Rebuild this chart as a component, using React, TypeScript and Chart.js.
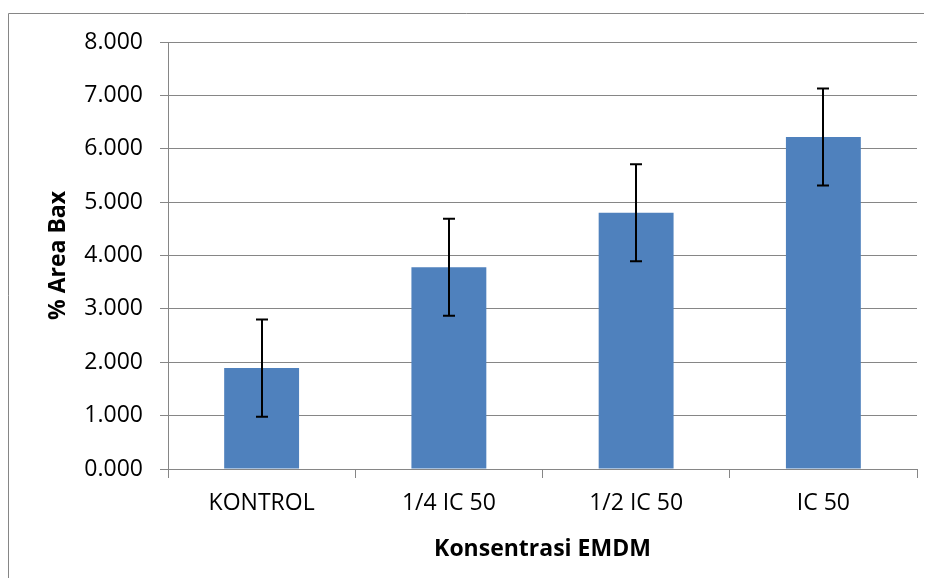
import React, { useEffect, useRef } from "react";
import { Chart, registerables } from "chart.js";

Chart.register(...registerables);

const categories = ["KONTROL", "1/4 IC 50", "1/2 IC 50", "IC 50"];
const values = [1.89, 3.78, 4.80, 6.22];
const errors = [0.91, 0.91, 0.91, 0.91];
const yTicks = [0, 1, 2, 3, 4, 5, 6, 7, 8];

const FONT = "'Open Sans', 'DejaVu Sans', sans-serif";
const GRID = "#868686";

const decorPlugin = {
  id: "decor",
  beforeDraw(chart: any) {
    const { ctx, width, height } = chart;
    ctx.save();
    ctx.strokeStyle = GRID;
    ctx.lineWidth = 1;
    ctx.beginPath();
    ctx.moveTo(0.5, height);
    ctx.lineTo(0.5, 5.5);
    ctx.lineTo(width, 5.5);
    ctx.stroke();
    ctx.restore();
  },
  afterDatasetsDraw(chart: any) {
    const { ctx } = chart;
    const x = chart.scales.x;
    const y = chart.scales.y;
    ctx.save();
    ctx.strokeStyle = "#000";
    ctx.lineWidth = 2;
    values.forEach((v, i) => {
      const cx = Math.round(x.getPixelForValue(i));
      const top = y.getPixelForValue(v + errors[i]);
      const bot = y.getPixelForValue(v - errors[i]);
      ctx.beginPath();
      ctx.moveTo(cx, top);
      ctx.lineTo(cx, bot);
      ctx.moveTo(cx - 6, top);
      ctx.lineTo(cx + 6, top);
      ctx.moveTo(cx - 6, bot);
      ctx.lineTo(cx + 6, bot);
      ctx.stroke();
    });
    ctx.restore();
  },
};

export default function App() {
  const ref = useRef<HTMLCanvasElement | null>(null);
  useEffect(() => {
    if (!ref.current) return;
    const chart = new Chart(ref.current, {
      type: "bar",
      data: {
        labels: categories,
        datasets: [
          {
            data: values,
            backgroundColor: "#4F81BD",
            borderWidth: 0,
            barPercentage: 0.4,
            categoryPercentage: 1,
          },
        ],
      },
      options: {
        responsive: false,
        animation: false,
        layout: { padding: { top: 34, right: 7, bottom: 0, left: 0 } },
        plugins: { legend: { display: false }, tooltip: { enabled: false } },
        scales: {
          x: {
            grid: {
              offset: true,
              drawOnChartArea: false,
              drawTicks: true,
              tickLength: 9,
              color: GRID,
            },
            border: { color: GRID },
            ticks: {
              color: "#000",
              font: { family: FONT, size: 23 },
              padding: 12,
              maxRotation: 0,
              autoSkip: false,
            },
            title: {
              display: true,
              text: "Konsentrasi EMDM",
              color: "#000",
              font: { family: FONT, size: 23, weight: "bold" },
              padding: { top: 0, bottom: 15 },
            },
            afterFit(scale: any) {
              scale.height = 109;
            },
          },
          y: {
            min: 0,
            max: 8,
            afterBuildTicks(scale: any) {
              scale.ticks = yTicks.map((v) => ({ value: v }));
            },
            grid: { color: GRID, tickLength: 8, drawTicks: true },
            border: { color: GRID },
            ticks: {
              color: "#000",
              font: { family: FONT, size: 23 },
              padding: 17,
              callback: (v: any) => Number(v).toFixed(3),
            },
            title: {
              display: true,
              text: "% Area Bax",
              color: "#000",
              font: { family: FONT, size: 23, weight: "bold" },
              padding: { top: 37, bottom: 0 },
            },
            afterFit(scale: any) {
              scale.width = 160;
            },
          },
        },
      },
      plugins: [decorPlugin],
    } as any);
    return () => chart.destroy();
  }, []);
  return (
    <div style={{ width: 916, height: 570, overflow: "hidden" }}>
      <canvas ref={ref} width={916} height={570} style={{ display: "block" }} />
    </div>
  );
}
